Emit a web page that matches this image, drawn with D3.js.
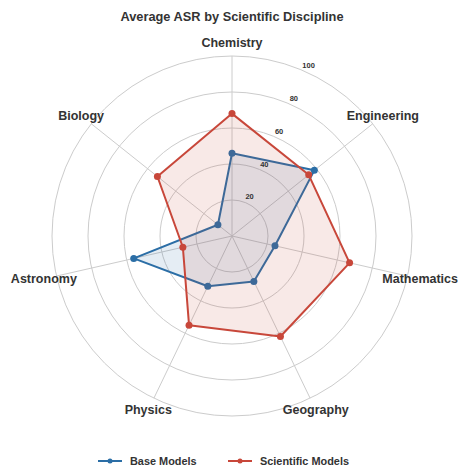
<!DOCTYPE html>
<html>
<head>
<meta charset="utf-8">
<script src="https://cdn.jsdelivr.net/npm/d3@7"></script>
<style>
  body { margin: 0; background: #fff; }
  svg { font-family: "Liberation Sans", Arial, sans-serif; }
</style>
</head>
<body>
<svg id="drawing_region"></svg>
<script>
const disciplines = ["Chemistry", "Engineering", "Mathematics", "Geography", "Physics", "Astronomy", "Biology"];
const baseModels = [46, 58.5, 24.5, 28, 31, 56, 10];
const scientificModels = [68, 54.5, 67, 62, 55, 28, 53];
const ringTicks = [20, 40, 60, 80, 100];
const seriesNames = ["Base Models", "Scientific Models"];

const config = {
    width: 459,
    height: 466,
    cx: 232,
    cy: 236,
    radius: 180,
    labelRadius: 193,
    colors: ["#2b6ea6", "#c8473a"]
};

const svg = d3.select('#drawing_region')
    .attr('width', config.width)
    .attr('height', config.height);

const rscale = d3.scaleLinear()
    .domain([0, 100])
    .range([0, config.radius]);

const angle = d3.scaleLinear()
    .domain([0, disciplines.length])
    .range([0, 2 * Math.PI]);

const chart = svg.append('g')
    .attr('transform', `translate(${config.cx}, ${config.cy})`);

// rings
chart.selectAll('.ring')
    .data(ringTicks)
    .enter()
    .append('circle')
    .attr('r', d => rscale(d))
    .attr('fill', 'none')
    .attr('stroke', '#cccccc')
    .attr('stroke-width', 1);

// spokes
chart.selectAll('.spoke')
    .data(disciplines)
    .enter()
    .append('line')
    .attr('x1', 0).attr('y1', 0)
    .attr('x2', (d, i) => rscale(100) * Math.sin(angle(i)))
    .attr('y2', (d, i) => -rscale(100) * Math.cos(angle(i)))
    .attr('stroke', '#cccccc')
    .attr('stroke-width', 1);

// series
const line = d3.lineRadial()
    .angle((d, i) => angle(i))
    .radius(d => rscale(d))
    .curve(d3.curveLinearClosed);

const series = [baseModels, scientificModels];

series.forEach((values, s) => {
    const g = chart.append('g');
    g.append('path')
        .attr('d', line(values))
        .attr('fill', config.colors[s])
        .attr('fill-opacity', 0.12)
        .attr('stroke', config.colors[s])
        .attr('stroke-width', 2)
        .attr('stroke-linejoin', 'round');
    g.selectAll('circle')
        .data(values)
        .enter()
        .append('circle')
        .attr('cx', (d, i) => rscale(d) * Math.sin(angle(i)))
        .attr('cy', (d, i) => -rscale(d) * Math.cos(angle(i)))
        .attr('r', 3.5)
        .attr('fill', config.colors[s]);
});

// tick labels, halfway between first two spokes
const tickAngle = angle(0.47);
chart.selectAll('.tick')
    .data(ringTicks)
    .enter()
    .append('text')
    .attr('x', d => (rscale(d) + 7) * Math.sin(tickAngle))
    .attr('y', d => -(rscale(d) + 7) * Math.cos(tickAngle))
    .attr('dy', '0.35em')
    .attr('text-anchor', 'middle')
    .attr('font-size', '7.5px')
    .attr('font-weight', 'bold')
    .attr('fill', '#333')
    .text(d => d);

// axis labels
chart.selectAll('.label')
    .data(disciplines)
    .enter()
    .append('text')
    .attr('x', (d, i) => config.labelRadius * Math.sin(angle(i)))
    .attr('y', (d, i) => -config.labelRadius * Math.cos(angle(i)))
    .attr('dy', '0.35em')
    .attr('text-anchor', 'middle')
    .attr('font-size', '12.5px')
    .attr('font-weight', 'bold')
    .attr('fill', '#333')
    .text(d => d);

// title
svg.append('text')
    .attr('x', config.cx)
    .attr('y', 21)
    .attr('text-anchor', 'middle')
    .attr('font-size', '12.8px')
    .attr('font-weight', 'bold')
    .attr('fill', '#333')
    .text('Average ASR by Scientific Discipline');

// legend
const legendX = [98, 228];
const legend = svg.selectAll('.legend')
    .data(seriesNames)
    .enter()
    .append('g')
    .attr('transform', (d, i) => `translate(${legendX[i]}, 461)`);

legend.append('line')
    .attr('x1', 0).attr('x2', 24)
    .attr('y1', 0).attr('y2', 0)
    .attr('stroke', (d, i) => config.colors[i])
    .attr('stroke-width', 2);

legend.append('circle')
    .attr('cx', 12).attr('cy', 0)
    .attr('r', 2.5)
    .attr('fill', (d, i) => config.colors[i]);

legend.append('text')
    .attr('x', 32)
    .attr('y', 0)
    .attr('dy', '0.35em')
    .attr('font-size', '10.9px')
    .attr('font-weight', 'bold')
    .attr('fill', '#333')
    .text(d => d);
</script>
</body>
</html>
